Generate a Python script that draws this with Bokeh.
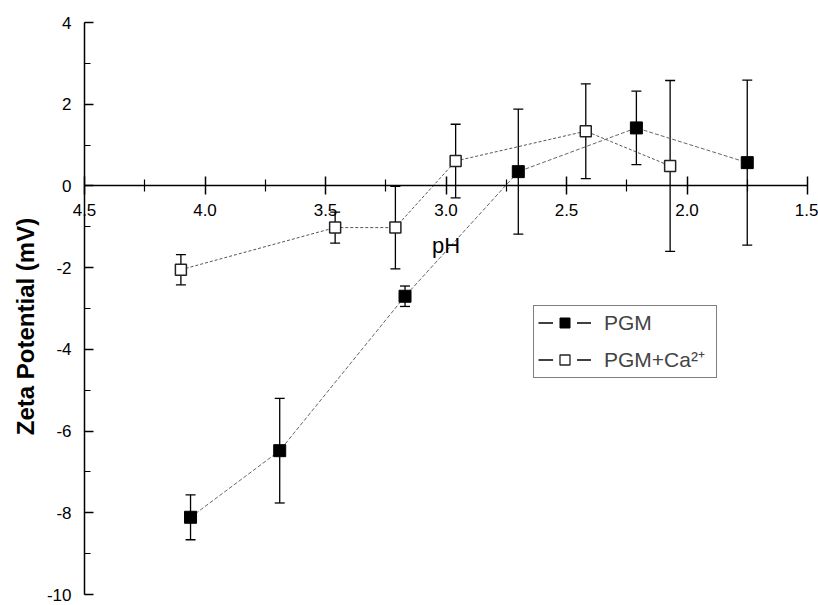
import math
from bokeh.plotting import figure
from bokeh.models import (ColumnDataSource, Range1d, FixedTicker, SingleIntervalTicker,
                          PrintfTickFormatter, Whisker, TeeHead, Legend, LegendItem, Label)
from bokeh.embed import file_html
from bokeh.resources import INLINE

# ---- data ----
ph_pgm = [4.06, 3.69, 3.17, 2.70, 2.21, 1.75]
zeta_pgm = [-8.11, -6.48, -2.70, 0.35, 1.42, 0.57]
err_pgm = [0.55, 1.28, 0.25, 1.53, 0.90, 2.02]

ph_ca = [4.10, 3.46, 3.21, 2.96, 2.42, 2.07]
zeta_ca = [-2.05, -1.02, -1.02, 0.61, 1.34, 0.49]
err_ca = [0.37, 0.38, 1.01, 0.90, 1.16, 2.09]

x_ticks = [4.5, 4.0, 3.5, 3.0, 2.5, 2.0, 1.5]
x_minor = [4.25, 3.75, 3.25, 2.75, 2.25, 1.75]
x_bounds = (1.5, 4.5)
y_bounds = (-10, 4)
series_labels = ["PGM", "PGM+Ca\u00b2\u207a"]
y_title = "Zeta Potential (mV)"
x_title = "pH"

FONT = "Liberation Sans"

# ---- layout (pixels) ----
W, H = 818, 605
AX_LEFT, AX_RIGHT = 84, 807      # x = 4.5 ... 1.5
AX_TOP, AX_BOTTOM = 22, 594      # y = 4 ... -10
px_x = (AX_RIGHT - AX_LEFT) / (x_bounds[1] - x_bounds[0])
px_y = (AX_BOTTOM - AX_TOP) / (y_bounds[1] - y_bounds[0])
x_start = x_bounds[1] + AX_LEFT / px_x
x_end = x_bounds[0] - (W - AX_RIGHT) / px_x
y_end = y_bounds[1] + AX_TOP / px_y
y_start = y_bounds[0] - (H - AX_BOTTOM) / px_y

src_pgm = ColumnDataSource(dict(x=ph_pgm, y=zeta_pgm,
                                lo=[v - e for v, e in zip(zeta_pgm, err_pgm)],
                                hi=[v + e for v, e in zip(zeta_pgm, err_pgm)]))
src_ca = ColumnDataSource(dict(x=ph_ca, y=zeta_ca,
                               lo=[v - e for v, e in zip(zeta_ca, err_ca)],
                               hi=[v + e for v, e in zip(zeta_ca, err_ca)]))

p = figure(width=W, height=H, x_range=Range1d(x_start, x_end), y_range=Range1d(y_start, y_end),
           output_backend="svg", toolbar_location=None,
           min_border_left=0, min_border_right=0, min_border_top=0, min_border_bottom=0)
p.background_fill_color = "white"
p.border_fill_color = "white"
p.outline_line_color = None
p.grid.visible = False

# connecting lines
p.line("x", "y", source=src_ca, line_color="#555555", line_width=1, line_dash="3 2")
p.line("x", "y", source=src_pgm, line_color="#666666", line_width=1, line_dash="4 2")

# error bars
for src in (src_pgm, src_ca):
    w = Whisker(source=src, base="x", upper="hi", lower="lo", dimension="height",
                line_color="black", line_width=1.3,
                upper_head=TeeHead(size=10, line_color="black", line_width=1.3),
                lower_head=TeeHead(size=10, line_color="black", line_width=1.3))
    p.add_layout(w)

# markers
p.scatter("x", "y", source=src_ca, marker="square", size=11,
          fill_color="white", line_color="#222222", line_width=1.5)
p.scatter("x", "y", source=src_pgm, marker="square", size=12,
          fill_color="black", line_color="black", line_width=1)

# legend glyph renderers (their points lie outside the visible range)
off_x, off_y = [20, 21], [50, 50]
l1 = p.line(x=off_x, y=off_y, line_color="black", line_width=1.3)
m1a = p.scatter(x=off_x, y=off_y, marker="square", fill_color="white", line_color="white", line_width=14)
m1 = p.scatter(x=off_x, y=off_y, marker="square", fill_color="black", line_color="black")
l2 = p.line(x=off_x, y=off_y, line_color="black", line_width=1.3)
m2a = p.scatter(x=off_x, y=off_y, marker="square", fill_color="white", line_color="white", line_width=14)
m2 = p.scatter(x=off_x, y=off_y, marker="square", fill_color="white", line_color="#222222", line_width=1.3)

legend = Legend(items=[LegendItem(label=series_labels[0], renderers=[l1, m1a, m1]),
                       LegendItem(label=series_labels[1], renderers=[l2, m2a, m2])],
                location=(533, H - 378), padding=4, spacing=10, glyph_height=25, glyph_width=53,
                label_height=25, label_width=108, label_standoff=13,
                label_text_font=FONT, label_text_font_size="21px",
                border_line_color="black", border_line_width=1,
                background_fill_color="white", background_fill_alpha=1.0, margin=0)
p.add_layout(legend, "center")

# x axis crossing at y = 0
xa = p.xaxis[0]
xa.fixed_location = 0
xa.bounds = x_bounds
xa.ticker = FixedTicker(ticks=x_ticks, minor_ticks=x_minor)
xa.formatter = PrintfTickFormatter(format="%.1f")
xa.axis_line_color = "black"
xa.axis_line_width = 1.5
xa.major_tick_in = 9
xa.major_tick_out = 9
xa.minor_tick_in = 6
xa.minor_tick_out = 6
xa.major_tick_line_width = 1.5
xa.minor_tick_line_width = 1.2
xa.major_label_standoff = 9
xa.major_label_text_font = FONT
xa.major_label_text_font_size = "17px"
xa.major_label_text_color = "black"
xa.axis_label = x_title
xa.axis_label_text_font = FONT
xa.axis_label_text_font_size = "22px"
xa.axis_label_text_font_style = "normal"
xa.axis_label_text_color = "black"
xa.axis_label_standoff = 14

# y axis at x = 4.5
ya = p.yaxis[0]
ya.fixed_location = x_bounds[1]
ya.bounds = y_bounds
ya.ticker = SingleIntervalTicker(interval=2, num_minor_ticks=2)
ya.formatter = PrintfTickFormatter(format="%d")
ya.axis_line_color = "black"
ya.axis_line_width = 1.5
ya.major_tick_in = 9
ya.major_tick_out = 0
ya.minor_tick_in = 6
ya.minor_tick_out = 0
ya.major_tick_line_width = 1.5
ya.minor_tick_line_width = 1.2
ya.major_label_standoff = 13
ya.major_label_text_font = FONT
ya.major_label_text_font_size = "17px"
ya.major_label_text_color = "black"

# y title placed like the reference (slightly below the axis centre)
title_x = x_bounds[1] + (AX_LEFT - 25) / px_x
title_y = y_bounds[1] - (326 - AX_TOP) / px_y
p.add_layout(Label(x=title_x, y=title_y, text=y_title, angle=math.pi / 2,
                   text_align="center", text_baseline="middle",
                   text_font=FONT, text_font_size="24px", text_font_style="bold",
                   text_color="black"))

open("out.html", "w").write(file_html(p, INLINE))
